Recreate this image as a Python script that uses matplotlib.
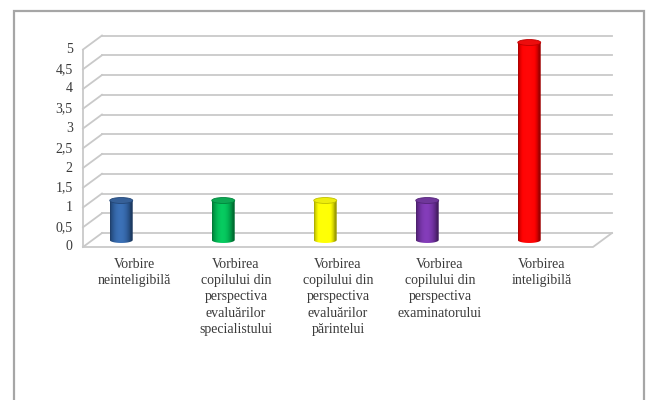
import numpy as np
import matplotlib.pyplot as plt
from matplotlib.patches import Ellipse, PathPatch, Rectangle
from matplotlib.path import Path
from matplotlib.colors import to_rgb

plt.rcParams['font.family'] = ['Liberation Serif', 'DejaVu Serif']

categories = ['Vorbire\nneinteligibilă',
              'Vorbirea\ncopilului din\nperspectiva\nevaluărilor\nspecialistului',
              'Vorbirea\ncopilului din\nperspectiva\nevaluărilor\npărintelui',
              'Vorbirea\ncopilului din\nperspectiva\nexaminatorului',
              'Vorbirea\ninteligibilă']
values = [1, 1, 1, 1, 5]
colors = ['#2f5f9e', '#00b050', '#ffff00', '#7030a0', '#ff0000']
ticks = np.arange(0, 5.01, 0.5)
tick_labels = ['0', '0,5', '1', '1,5', '2', '2,5', '3', '3,5', '4', '4,5', '5']

# depth of the 3d box (in category / value units)
DX, DY = 0.186, 0.354
grid_col = '#c9c9c9'
txt_col = '#3a3a3a'

fig = plt.figure(figsize=(6.49, 4.0), dpi=100)
ax = fig.add_axes([0, 0, 1, 1])
ax.set_autoscale_on(False)
ax.set_xlim(-134 / 102, (649 - 134) / 102)
ax.set_ylim(-153 / 39.5, 247 / 39.5)
ax.axis('off')

# chart border
fig.add_artist(Rectangle((13.5 / 649, -0.1), (644 - 13.5) / 649, 1.1 - 10.8 / 400,
                         transform=fig.transFigure, fill=False,
                         edgecolor='#a6a6a6', lw=1.6))

# back wall + side wall gridlines
x0, x1 = -0.5, len(categories) - 0.5
for v in ticks:
    ax.plot([x0 + DX, x1 + DX], [v + DY, v + DY], color=grid_col, lw=1.3, zorder=1)
    ax.plot([x0, x0 + DX], [v, v + DY], color=grid_col, lw=1.3, zorder=1)
ax.plot([x0, x0], [0, ticks[-1]], color=grid_col, lw=1.3, zorder=1)
# floor
ax.plot([x0, x1, x1 + DX], [0, 0, DY], color=grid_col, lw=1.3, zorder=1)

for v, lab in zip(ticks, tick_labels):
    ax.text(x0 - 0.1, v, lab, ha='right', va='center', fontsize=10, color=txt_col)

for i, lab in enumerate(categories):
    ax.text(i, -0.27, lab, ha='center', va='top', fontsize=10, color=txt_col,
            linespacing=1.33)

# cylinders
w, eh = 0.225, 0.15
t = np.linspace(0, 1, 64)
shade = 0.62 + 0.5 * np.sin(np.pi * np.clip(t * 1.1, 0, 1)) ** 0.6
for i, (val, col) in enumerate(zip(values, colors)):
    xc = i - 0.125
    bot = DY / 2
    top = bot + val
    base = np.array(to_rgb(col))
    grad = np.clip(base[None, :] * shade[:, None] + 0.12 * (shade[:, None] - 0.9).clip(0), 0, 1)
    img = np.tile(grad[None, :, :], (2, 1, 1))

    ang = np.linspace(0, -np.pi, 40)
    verts = [(xc - w / 2, top), (xc + w / 2, top)]
    verts += [(xc + w / 2 * np.cos(a), bot + eh / 2 * np.sin(a)) for a in ang]
    verts.append((xc - w / 2, top))
    codes = [Path.MOVETO] + [Path.LINETO] * (len(verts) - 2) + [Path.CLOSEPOLY]
    body = PathPatch(Path(verts, codes), facecolor='none', edgecolor='none')
    ax.add_patch(body)
    im = ax.imshow(img, extent=[xc - w / 2, xc + w / 2, bot - eh / 2, top],
                   aspect='auto', zorder=3, interpolation='bilinear')
    im.set_clip_path(body)

    top_col = np.clip(base * 0.88 + 0.05, 0, 1)
    ax.add_patch(Ellipse((xc, top), w, eh, facecolor=top_col,
                         edgecolor=np.clip(base * 0.75, 0, 1), lw=0.6, zorder=4))

fig.savefig('out.png', dpi=100)
